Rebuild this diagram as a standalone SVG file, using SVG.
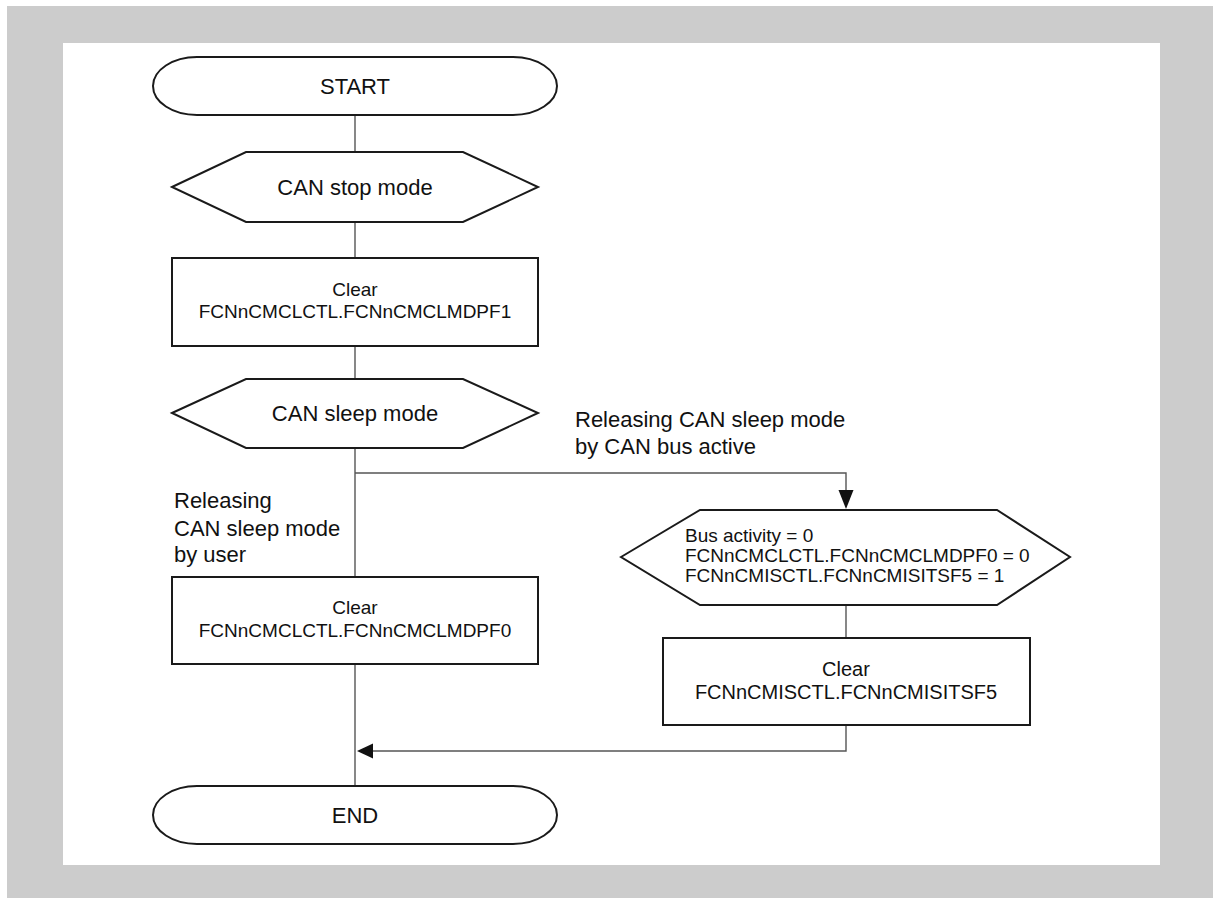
<svg xmlns="http://www.w3.org/2000/svg" width="1213" height="898" viewBox="0 0 1213 898">
<defs>
<style>
.shape{fill:#fff;stroke:#1a1a1a;stroke-width:2}
.conn{fill:none;stroke:#555;stroke-width:1.4}
text{font-family:"Liberation Sans",Arial,sans-serif;fill:#111}
.big{font-size:22px}
.mid{font-size:19px}
.c{text-anchor:middle}
</style>
<marker id="arr" viewBox="0 0 10 10" refX="10" refY="5" markerWidth="10" markerHeight="10" markerUnits="userSpaceOnUse" orient="auto">
<path d="M0,0 L10,5 L0,10 Z" fill="#111"/>
</marker>
</defs>
<rect x="0" y="0" width="1213" height="898" fill="#fff"/>
<rect x="7" y="6" width="1206" height="892" fill="#cccccc"/>
<rect x="63" y="43" width="1097" height="822" fill="#fff"/>

<g id="connectors">
<line class="conn" x1="355" y1="115" x2="355" y2="152"/>
<line class="conn" x1="355" y1="222" x2="355" y2="258"/>
<line class="conn" x1="355" y1="346" x2="355" y2="379"/>
<line class="conn" x1="355" y1="448" x2="355" y2="577"/>
<line class="conn" x1="355" y1="664" x2="355" y2="786"/>
<polyline class="conn" points="355,473 846,473 846,490"/>
<path d="M838.5,490 L853.5,490 L846,509 Z" fill="#111"/>
<line class="conn" x1="846" y1="605" x2="846" y2="638"/>
<polyline class="conn" points="846,725 846,751 373,751"/>
<path d="M373,743.5 L373,758.5 L357,751 Z" fill="#111"/>
</g>

<g id="start">
<rect class="shape" x="153" y="57" width="404" height="58" rx="44" ry="29"/>
<text class="big c" x="355" y="94">START</text>
</g>

<g id="stop">
<polygon class="shape" points="172,187 246,152 463,152 538,187 463,222 246,222"/>
<text class="big c" x="355" y="195">CAN stop mode</text>
</g>

<g id="clear1">
<rect class="shape" x="172" y="258" width="366" height="88"/>
<text class="mid c" x="355" y="296">Clear</text>
<text class="mid c" x="355" y="318">FCNnCMCLCTL.FCNnCMCLMDPF1</text>
</g>

<g id="sleep">
<polygon class="shape" points="172,413 246,379 463,379 538,413 463,448 246,448"/>
<text class="big c" x="355" y="421">CAN sleep mode</text>
</g>

<g id="label-bus">
<text class="big" x="575" y="427">Releasing CAN sleep mode</text>
<text class="big" x="575" y="454">by CAN bus active</text>
</g>

<g id="label-user">
<text class="big" x="174" y="508">Releasing</text>
<text class="big" x="174" y="536">CAN sleep mode</text>
<text class="big" x="174" y="562">by user</text>
</g>

<g id="clear0">
<rect class="shape" x="172" y="577" width="366" height="87"/>
<text class="mid c" x="355" y="614">Clear</text>
<text class="mid c" x="355" y="637">FCNnCMCLCTL.FCNnCMCLMDPF0</text>
</g>

<g id="busdecision">
<polygon class="shape" points="621,557 700,510 997,510 1070,557 997,605 700,605"/>
<text class="mid" x="685" y="542">Bus activity = 0</text>
<text class="mid" x="685" y="562">FCNnCMCLCTL.FCNnCMCLMDPF0 = 0</text>
<text class="mid" x="685" y="582">FCNnCMISCTL.FCNnCMISITSF5 = 1</text>
</g>

<g id="clearF5">
<rect class="shape" x="663" y="638" width="367" height="87"/>
<text class="big c" x="846" y="676" style="font-size:20px">Clear</text>
<text class="big c" x="846" y="699" style="font-size:20px">FCNnCMISCTL.FCNnCMISITSF5</text>
</g>

<g id="end">
<rect class="shape" x="153" y="786" width="404" height="58" rx="44" ry="29"/>
<text class="big c" x="355" y="823">END</text>
</g>
</svg>
